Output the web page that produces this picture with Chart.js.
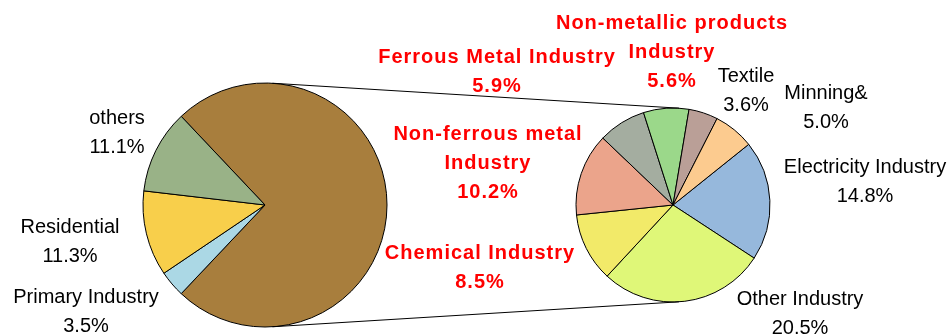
<!DOCTYPE html>
<html>
<head>
<meta charset="utf-8">
<script src="https://cdn.jsdelivr.net/npm/chart.js@4.4.0/dist/chart.umd.min.js"></script>
<style>
  html, body { margin: 0; padding: 0; background: #fff; }
  #wrap { position: relative; width: 950px; height: 336px; overflow: hidden; }
  #wrap canvas { position: absolute; left: 0; top: 0; }
</style>
</head>
<body>
<div id="wrap">
  <canvas id="mainPie" width="950" height="336"></canvas>
  <canvas id="subPie" width="950" height="336"></canvas>
</div>
<script>
// first pie: whole consumption, the first slice is split out into the second pie
const mainLabels = ['Industry', 'Primary Industry', 'Residential', 'others'];
const mainValues = [74.1, 3.5, 11.3, 11.1];
const mainColors = ['#A87E3D', '#ABD8E5', '#F8CF4B', '#99B287'];

// second pie: breakdown of industry
const subLabels = [
  'Electricity Industry',
  'Other Industry',
  'Chemical Industry',
  ['Non-ferrous metal', 'Industry'],
  'Ferrous Metal Industry',
  ['Non-metallic products', 'Industry'],
  'Textile',
  'Minning&'
];
const subValues = [14.8, 20.5, 8.5, 10.2, 5.9, 5.6, 3.6, 5.0];
const subColors = ['#96B8DC', '#DFF778', '#F2EA69', '#EBA48B', '#A4ADA0', '#9BD88A', '#BA9F97', '#FCCB8F'];

// label anchors (centre of first text line)
const mainLabelPos = [null, { x: 86, y: 297 }, { x: 70, y: 227 }, { x: 117, y: 118 }];
const subLabelPos = [
  { x: 865, y: 167 },
  { x: 800, y: 299 },
  { x: 480, y: 253, red: true },
  { x: 488, y: 134, red: true },
  { x: 497, y: 57, red: true },
  { x: 672, y: 23, red: true },
  { x: 746, y: 76 },
  { x: 826, y: 93 }
];

const W = 950, H = 336;

function padFor(cx, cy, r) {
  return { left: cx - r, right: W - cx - r, top: cy - r, bottom: H - cy - r };
}

// text labels next to the slices
const sliceLabels = {
  id: 'sliceLabels',
  afterDatasetsDraw(chart, args, opts) {
    const ctx = chart.ctx;
    const labels = chart.data.labels;
    const values = chart.data.datasets[0].data;
    ctx.save();
    ctx.textAlign = 'center';
    ctx.textBaseline = 'middle';
    opts.positions.forEach((pos, i) => {
      if (!pos) return;
      const lines = [].concat(labels[i], values[i].toFixed(1) + '%');
      ctx.font = (pos.red ? 'bold ' : '') + '20px "Liberation Sans", Arial, sans-serif';
      ctx.fillStyle = pos.red ? '#FF0000' : '#000';
      ctx.letterSpacing = pos.red ? '1px' : '0px';
      lines.forEach((t, j) => ctx.fillText(t, pos.x, pos.y + j * 29));
    });
    ctx.restore();
  }
};

let mainChart = null;

// tangent lines joining the two pies
const connectors = {
  id: 'connectors',
  afterDatasetsDraw(chart) {
    if (!mainChart) return;
    const a = mainChart.getDatasetMeta(0).data[0];
    const b = chart.getDatasetMeta(0).data[0];
    const s = (a.outerRadius - b.outerRadius) / (b.x - a.x);
    const c = Math.sqrt(1 - s * s);
    const ctx = chart.ctx;
    ctx.save();
    ctx.strokeStyle = '#000';
    ctx.lineWidth = 1;
    [-1, 1].forEach(sign => {
      ctx.beginPath();
      ctx.moveTo(a.x + a.outerRadius * s, a.y + sign * a.outerRadius * c);
      ctx.lineTo(b.x + b.outerRadius * s, b.y + sign * b.outerRadius * c);
      ctx.stroke();
    });
    ctx.restore();
  }
};

const mainTotal = mainValues.reduce((p, v) => p + v, 0);

mainChart = new Chart(document.getElementById('mainPie'), {
  type: 'pie',
  data: {
    labels: mainLabels,
    datasets: [{
      data: mainValues,
      backgroundColor: mainColors,
      borderColor: '#000',
      borderWidth: 1,
      hoverOffset: 0
    }]
  },
  options: {
    responsive: false,
    animation: false,
    events: [],
    // split slice centred on the right side
    rotation: 90 - (mainValues[0] / mainTotal) * 180,
    radius: 122,
    layout: { padding: padFor(265, 205, 122) },
    plugins: {
      legend: { display: false },
      tooltip: { enabled: false },
      sliceLabels: { positions: mainLabelPos }
    }
  },
  plugins: [sliceLabels]
});

new Chart(document.getElementById('subPie'), {
  type: 'pie',
  data: {
    labels: subLabels,
    datasets: [{
      data: subValues,
      backgroundColor: subColors,
      borderColor: '#000',
      borderWidth: 1,
      hoverOffset: 0
    }]
  },
  options: {
    responsive: false,
    animation: false,
    events: [],
    rotation: 51.3,
    radius: 97,
    layout: { padding: padFor(673, 205, 97) },
    plugins: {
      legend: { display: false },
      tooltip: { enabled: false },
      sliceLabels: { positions: subLabelPos }
    }
  },
  plugins: [connectors, sliceLabels]
});
</script>
</body>
</html>
